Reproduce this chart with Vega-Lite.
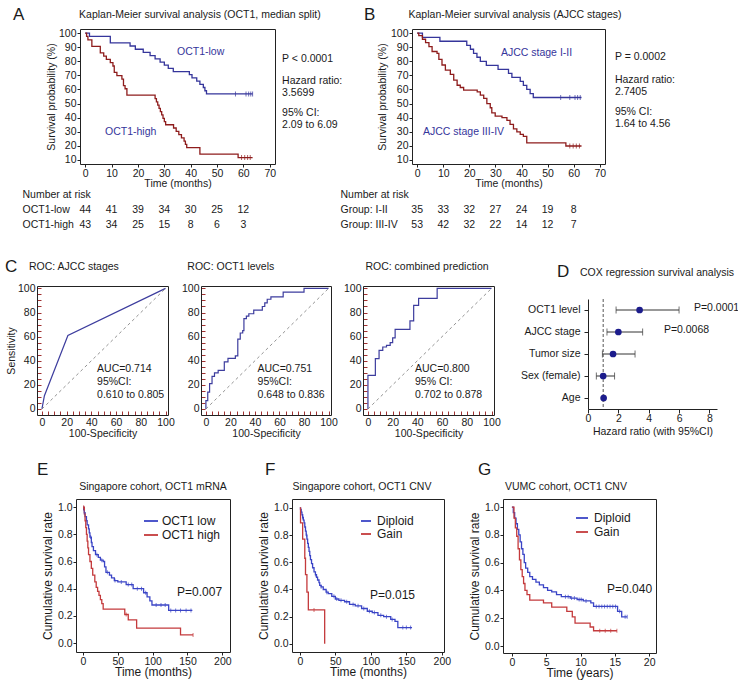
{
"$schema": "https://vega.github.io/schema/vega-lite/v6.json",
"width": 738, "height": 682,
"autosize": {"type": "none"},
"padding": 0,
"background": "white",
"config": {
 "font": "Liberation Sans",
 "view": {"stroke": null},
 "axis": {"grid": false, "labelFont": "Liberation Sans", "titleFont": "Liberation Sans", "labelFontSize": 10.5, "titleFontSize": 10.5, "labelColor": "#1a1a1a", "titleColor": "#1a1a1a", "titleFontWeight": "normal", "domainColor": "#222222", "tickColor": "#222222", "labelFlush": false, "labelOverlap": false, "minExtent": 0},
 "text": {"font": "Liberation Sans", "fontSize": 10.5, "color": "#1a1a1a"},
 "legend": {"labelFont": "Liberation Sans", "labelFontSize": 12, "labelColor": "#1a1a1a", "padding": 0}
},
"datasets": {
 "one": [{}],
 "kmA": [
  {"g":"OCT1-low","t":0,"s":100},{"g":"OCT1-low","t":1.6,"s":97.7},{"g":"OCT1-low","t":9.5,"s":93.2},{"g":"OCT1-low","t":17,"s":90.9},{"g":"OCT1-low","t":19,"s":88.6},{"g":"OCT1-low","t":22,"s":86.4},{"g":"OCT1-low","t":24.6,"s":84.1},{"g":"OCT1-low","t":26.5,"s":81.8},{"g":"OCT1-low","t":28.4,"s":79.5},{"g":"OCT1-low","t":30,"s":77.3},{"g":"OCT1-low","t":31.5,"s":75},{"g":"OCT1-low","t":33.4,"s":72.7},{"g":"OCT1-low","t":39.5,"s":70.5},{"g":"OCT1-low","t":40.5,"s":68.2},{"g":"OCT1-low","t":42.3,"s":65.9},{"g":"OCT1-low","t":43.5,"s":63.6},{"g":"OCT1-low","t":44.8,"s":61.4},{"g":"OCT1-low","t":45.4,"s":59.1},{"g":"OCT1-low","t":46,"s":56.8},{"g":"OCT1-low","t":63.5,"s":56.8},
  {"g":"OCT1-high","t":0,"s":100},{"g":"OCT1-high","t":0.5,"s":97.7},{"g":"OCT1-high","t":1,"s":95.3},{"g":"OCT1-high","t":2.5,"s":90.7},{"g":"OCT1-high","t":5.7,"s":86},{"g":"OCT1-high","t":7,"s":83.7},{"g":"OCT1-high","t":8,"s":81.4},{"g":"OCT1-high","t":9.5,"s":79.1},{"g":"OCT1-high","t":10.5,"s":76.7},{"g":"OCT1-high","t":11,"s":72.1},{"g":"OCT1-high","t":12,"s":69.8},{"g":"OCT1-high","t":13.9,"s":67.4},{"g":"OCT1-high","t":14.5,"s":62.8},{"g":"OCT1-high","t":15.1,"s":60.5},{"g":"OCT1-high","t":15.8,"s":56},{"g":"OCT1-high","t":26.5,"s":53.5},{"g":"OCT1-high","t":27,"s":51.2},{"g":"OCT1-high","t":27.5,"s":48.8},{"g":"OCT1-high","t":28,"s":46.5},{"g":"OCT1-high","t":28.5,"s":44.2},{"g":"OCT1-high","t":29,"s":41.9},{"g":"OCT1-high","t":29.5,"s":39.5},{"g":"OCT1-high","t":30,"s":37.2},{"g":"OCT1-high","t":30.5,"s":34.9},{"g":"OCT1-high","t":33.5,"s":32.6},{"g":"OCT1-high","t":34.5,"s":30.2},{"g":"OCT1-high","t":35.5,"s":27.9},{"g":"OCT1-high","t":36.5,"s":25.6},{"g":"OCT1-high","t":37.5,"s":23.3},{"g":"OCT1-high","t":38,"s":20.9},{"g":"OCT1-high","t":38.5,"s":18.6},{"g":"OCT1-high","t":43.5,"s":14},{"g":"OCT1-high","t":58,"s":11.6},{"g":"OCT1-high","t":63.5,"s":11.6}
 ],
 "cenA": [
  {"g":"OCT1-low","t":57,"s":56.8},{"g":"OCT1-low","t":61,"s":56.8},{"g":"OCT1-low","t":62,"s":56.8},{"g":"OCT1-low","t":62.8,"s":56.8},{"g":"OCT1-low","t":63.5,"s":56.8},
  {"g":"OCT1-high","t":59.3,"s":11.6},{"g":"OCT1-high","t":60.5,"s":11.6},{"g":"OCT1-high","t":61.6,"s":11.6},{"g":"OCT1-high","t":62.6,"s":11.6}
 ],
 "riskA": [
  {"g":"OCT1-low","t":0,"n":44},{"g":"OCT1-low","t":10,"n":41},{"g":"OCT1-low","t":20,"n":39},{"g":"OCT1-low","t":30,"n":34},{"g":"OCT1-low","t":40,"n":30},{"g":"OCT1-low","t":50,"n":25},{"g":"OCT1-low","t":60,"n":12},
  {"g":"OCT1-high","t":0,"n":43},{"g":"OCT1-high","t":10,"n":34},{"g":"OCT1-high","t":20,"n":25},{"g":"OCT1-high","t":30,"n":15},{"g":"OCT1-high","t":40,"n":8},{"g":"OCT1-high","t":50,"n":6},{"g":"OCT1-high","t":60,"n":3}
 ],
 "kmB": [
  {"g":"I-II","t":0,"s":100},{"g":"I-II","t":2,"s":97.1},{"g":"I-II","t":8.7,"s":94.3},{"g":"I-II","t":19,"s":91.4},{"g":"I-II","t":20.4,"s":88.6},{"g":"I-II","t":21.6,"s":85.7},{"g":"I-II","t":22.9,"s":82.9},{"g":"I-II","t":24.2,"s":80},{"g":"I-II","t":26.5,"s":77.1},{"g":"I-II","t":31,"s":74.3},{"g":"I-II","t":35,"s":71.4},{"g":"I-II","t":36.3,"s":68.6},{"g":"I-II","t":39.5,"s":65.7},{"g":"I-II","t":40.7,"s":62.9},{"g":"I-II","t":42,"s":60},{"g":"I-II","t":43.3,"s":57.1},{"g":"I-II","t":44.5,"s":54.3},{"g":"I-II","t":63,"s":54.3},
  {"g":"III-IV","t":0,"s":100},{"g":"III-IV","t":0.6,"s":98.3},{"g":"III-IV","t":2,"s":95.7},{"g":"III-IV","t":3.2,"s":93.3},{"g":"III-IV","t":4.5,"s":90.5},{"g":"III-IV","t":5.7,"s":87},{"g":"III-IV","t":7.6,"s":85.7},{"g":"III-IV","t":8.3,"s":81.4},{"g":"III-IV","t":9.5,"s":77.4},{"g":"III-IV","t":10.8,"s":73.8},{"g":"III-IV","t":12.7,"s":70.7},{"g":"III-IV","t":14,"s":66.7},{"g":"III-IV","t":15.3,"s":63},{"g":"III-IV","t":16.5,"s":61.4},{"g":"III-IV","t":17.8,"s":59.5},{"g":"III-IV","t":23,"s":58.3},{"g":"III-IV","t":24.2,"s":56},{"g":"III-IV","t":25.5,"s":53.6},{"g":"III-IV","t":26.7,"s":50},{"g":"III-IV","t":28,"s":47},{"g":"III-IV","t":28.6,"s":43.3},{"g":"III-IV","t":29.9,"s":41},{"g":"III-IV","t":32.5,"s":40},{"g":"III-IV","t":34.4,"s":38},{"g":"III-IV","t":35.6,"s":35.2},{"g":"III-IV","t":36.9,"s":32},{"g":"III-IV","t":38.2,"s":29.8},{"g":"III-IV","t":39.5,"s":28},{"g":"III-IV","t":40.7,"s":26.7},{"g":"III-IV","t":42,"s":22},{"g":"III-IV","t":57,"s":19.8},{"g":"III-IV","t":63,"s":19.8}
 ],
 "cenB": [
  {"g":"I-II","t":55,"s":54.3},{"g":"I-II","t":58.5,"s":54.3},{"g":"I-II","t":60.5,"s":54.3},{"g":"I-II","t":61.5,"s":54.3},{"g":"I-II","t":62.5,"s":54.3},
  {"g":"III-IV","t":58.5,"s":19.8},{"g":"III-IV","t":59.8,"s":19.8},{"g":"III-IV","t":61,"s":19.8},{"g":"III-IV","t":62.2,"s":19.8}
 ],
 "riskB": [
  {"g":"Group: I-II","t":0,"n":35},{"g":"Group: I-II","t":10,"n":33},{"g":"Group: I-II","t":20,"n":32},{"g":"Group: I-II","t":30,"n":27},{"g":"Group: I-II","t":40,"n":24},{"g":"Group: I-II","t":50,"n":19},{"g":"Group: I-II","t":60,"n":8},
  {"g":"Group: III-IV","t":0,"n":53},{"g":"Group: III-IV","t":10,"n":42},{"g":"Group: III-IV","t":20,"n":32},{"g":"Group: III-IV","t":30,"n":22},{"g":"Group: III-IV","t":40,"n":14},{"g":"Group: III-IV","t":50,"n":12},{"g":"Group: III-IV","t":60,"n":7}
 ],
 "roc1": [{"x":0,"y":0},{"x":2,"y":11},{"x":21,"y":61},{"x":100,"y":100}],
 "roc2": [{"x":0,"y":0},{"x":0,"y":7},{"x":1.5,"y":14},{"x":3,"y":21},{"x":5,"y":27},{"x":7,"y":30},{"x":10,"y":32},{"x":15,"y":39},{"x":18,"y":42},{"x":24,"y":44},{"x":26,"y":58},{"x":28,"y":63},{"x":30,"y":65},{"x":31,"y":75},{"x":33,"y":77},{"x":35,"y":79},{"x":39,"y":82},{"x":46,"y":85},{"x":48,"y":88},{"x":50,"y":91},{"x":53,"y":93},{"x":63,"y":97},{"x":80,"y":100},{"x":100,"y":100}],
 "roc3": [{"x":0,"y":0},{"x":0,"y":27.8},{"x":6,"y":41.7},{"x":9,"y":48.6},{"x":12,"y":51.4},{"x":15,"y":52.8},{"x":18,"y":55},{"x":20,"y":59},{"x":22,"y":66},{"x":34,"y":73},{"x":37,"y":86},{"x":41,"y":91.7},{"x":56,"y":100},{"x":100,"y":100}],
 "cox": [
  {"v":"OCT1 level","hr":3.4,"lo":1.85,"hi":6.0},
  {"v":"AJCC stage","hr":2.0,"lo":1.25,"hi":3.6},
  {"v":"Tumor size","hr":1.65,"lo":0.95,"hi":3.1},
  {"v":"Sex (female)","hr":1.0,"lo":0.55,"hi":1.75},
  {"v":"Age","hr":1.03,"lo":1.0,"hi":1.06}
 ],
 "kmE": [
  {"g":"OCT1 low","t":0,"s":1},{"g":"OCT1 low","t":1,"s":0.98},{"g":"OCT1 low","t":2,"s":0.96},{"g":"OCT1 low","t":3,"s":0.93},{"g":"OCT1 low","t":5,"s":0.9},{"g":"OCT1 low","t":6,"s":0.87},{"g":"OCT1 low","t":8,"s":0.84},{"g":"OCT1 low","t":9,"s":0.81},{"g":"OCT1 low","t":10,"s":0.78},{"g":"OCT1 low","t":12,"s":0.74},{"g":"OCT1 low","t":13,"s":0.71},{"g":"OCT1 low","t":15,"s":0.68},{"g":"OCT1 low","t":18,"s":0.65},{"g":"OCT1 low","t":22,"s":0.63},{"g":"OCT1 low","t":25,"s":0.61},{"g":"OCT1 low","t":29,"s":0.6},{"g":"OCT1 low","t":31,"s":0.56},{"g":"OCT1 low","t":33,"s":0.52},{"g":"OCT1 low","t":38,"s":0.5},{"g":"OCT1 low","t":41,"s":0.48},{"g":"OCT1 low","t":45,"s":0.46},{"g":"OCT1 low","t":50,"s":0.45},{"g":"OCT1 low","t":62,"s":0.43},{"g":"OCT1 low","t":72,"s":0.4},{"g":"OCT1 low","t":87,"s":0.37},{"g":"OCT1 low","t":92,"s":0.34},{"g":"OCT1 low","t":96,"s":0.31},{"g":"OCT1 low","t":99,"s":0.28},{"g":"OCT1 low","t":123,"s":0.24},{"g":"OCT1 low","t":157,"s":0.24},
  {"g":"OCT1 high","t":0,"s":1},{"g":"OCT1 high","t":2,"s":0.95},{"g":"OCT1 high","t":3,"s":0.9},{"g":"OCT1 high","t":4,"s":0.85},{"g":"OCT1 high","t":5,"s":0.8},{"g":"OCT1 high","t":6,"s":0.75},{"g":"OCT1 high","t":7,"s":0.7},{"g":"OCT1 high","t":8,"s":0.65},{"g":"OCT1 high","t":10,"s":0.6},{"g":"OCT1 high","t":12,"s":0.55},{"g":"OCT1 high","t":14,"s":0.5},{"g":"OCT1 high","t":17,"s":0.45},{"g":"OCT1 high","t":19,"s":0.41},{"g":"OCT1 high","t":21,"s":0.38},{"g":"OCT1 high","t":23,"s":0.35},{"g":"OCT1 high","t":25,"s":0.32},{"g":"OCT1 high","t":27,"s":0.29},{"g":"OCT1 high","t":29,"s":0.25},{"g":"OCT1 high","t":60,"s":0.21},{"g":"OCT1 high","t":65,"s":0.17},{"g":"OCT1 high","t":77,"s":0.11},{"g":"OCT1 high","t":140,"s":0.06},{"g":"OCT1 high","t":158,"s":0.06}
 ],
 "cenE": [
  {"g":"OCT1 low","t":2,"s":0.96},{"g":"OCT1 low","t":11,"s":0.78},{"g":"OCT1 low","t":20,"s":0.65},{"g":"OCT1 low","t":27,"s":0.61},{"g":"OCT1 low","t":35,"s":0.52},{"g":"OCT1 low","t":46,"s":0.46},{"g":"OCT1 low","t":55,"s":0.45},{"g":"OCT1 low","t":65,"s":0.43},{"g":"OCT1 low","t":70,"s":0.43},{"g":"OCT1 low","t":78,"s":0.4},{"g":"OCT1 low","t":84,"s":0.4},{"g":"OCT1 low","t":90,"s":0.37},{"g":"OCT1 low","t":105,"s":0.28},{"g":"OCT1 low","t":112,"s":0.28},{"g":"OCT1 low","t":118,"s":0.28},{"g":"OCT1 low","t":126,"s":0.24},{"g":"OCT1 low","t":133,"s":0.24},{"g":"OCT1 low","t":140,"s":0.24},{"g":"OCT1 low","t":148,"s":0.24},{"g":"OCT1 low","t":155,"s":0.24},
  {"g":"OCT1 high","t":1,"s":1},{"g":"OCT1 high","t":62,"s":0.21},{"g":"OCT1 high","t":158,"s":0.06}
 ],
 "kmF": [
  {"g":"Diploid","t":0,"s":1},{"g":"Diploid","t":1,"s":0.99},{"g":"Diploid","t":2,"s":0.97},{"g":"Diploid","t":3,"s":0.95},{"g":"Diploid","t":4,"s":0.93},{"g":"Diploid","t":5,"s":0.91},{"g":"Diploid","t":6,"s":0.89},{"g":"Diploid","t":7,"s":0.86},{"g":"Diploid","t":8,"s":0.83},{"g":"Diploid","t":9,"s":0.8},{"g":"Diploid","t":10,"s":0.77},{"g":"Diploid","t":11,"s":0.74},{"g":"Diploid","t":12,"s":0.71},{"g":"Diploid","t":13,"s":0.68},{"g":"Diploid","t":14,"s":0.65},{"g":"Diploid","t":15,"s":0.62},{"g":"Diploid","t":16.5,"s":0.59},{"g":"Diploid","t":18,"s":0.56},{"g":"Diploid","t":20,"s":0.53},{"g":"Diploid","t":22,"s":0.51},{"g":"Diploid","t":23.5,"s":0.49},{"g":"Diploid","t":25,"s":0.47},{"g":"Diploid","t":27,"s":0.45},{"g":"Diploid","t":28,"s":0.43},{"g":"Diploid","t":30,"s":0.42},{"g":"Diploid","t":33,"s":0.4},{"g":"Diploid","t":37,"s":0.38},{"g":"Diploid","t":40,"s":0.37},{"g":"Diploid","t":45,"s":0.35},{"g":"Diploid","t":50,"s":0.33},{"g":"Diploid","t":55,"s":0.32},{"g":"Diploid","t":63,"s":0.31},{"g":"Diploid","t":70,"s":0.29},{"g":"Diploid","t":78,"s":0.28},{"g":"Diploid","t":87,"s":0.26},{"g":"Diploid","t":95,"s":0.24},{"g":"Diploid","t":102,"s":0.23},{"g":"Diploid","t":110,"s":0.21},{"g":"Diploid","t":118,"s":0.2},{"g":"Diploid","t":128,"s":0.18},{"g":"Diploid","t":134,"s":0.165},{"g":"Diploid","t":138,"s":0.12},{"g":"Diploid","t":158,"s":0.12},
  {"g":"Gain","t":0,"s":1},{"g":"Gain","t":1,"s":0.89},{"g":"Gain","t":4,"s":0.77},{"g":"Gain","t":7,"s":0.63},{"g":"Gain","t":8,"s":0.51},{"g":"Gain","t":10,"s":0.38},{"g":"Gain","t":12,"s":0.25},{"g":"Gain","t":35,"s":0}
 ],
 "cenF": [
  {"g":"Diploid","t":4,"s":0.93},{"g":"Diploid","t":9.5,"s":0.8},{"g":"Diploid","t":22,"s":0.51},{"g":"Diploid","t":30,"s":0.42},{"g":"Diploid","t":38,"s":0.38},{"g":"Diploid","t":48,"s":0.35},{"g":"Diploid","t":52,"s":0.33},{"g":"Diploid","t":58,"s":0.32},{"g":"Diploid","t":66,"s":0.31},{"g":"Diploid","t":75,"s":0.29},{"g":"Diploid","t":82,"s":0.28},{"g":"Diploid","t":90,"s":0.26},{"g":"Diploid","t":98,"s":0.24},{"g":"Diploid","t":105,"s":0.23},{"g":"Diploid","t":114,"s":0.21},{"g":"Diploid","t":122,"s":0.2},{"g":"Diploid","t":130,"s":0.18},{"g":"Diploid","t":145,"s":0.12},{"g":"Diploid","t":150,"s":0.12},{"g":"Diploid","t":156,"s":0.12},
  {"g":"Gain","t":20,"s":0.25}
 ],
 "kmG": [
  {"g":"Diploid","t":0,"s":1},{"g":"Diploid","t":0.2,"s":0.96},{"g":"Diploid","t":0.4,"s":0.92},{"g":"Diploid","t":0.6,"s":0.88},{"g":"Diploid","t":0.8,"s":0.84},{"g":"Diploid","t":1.0,"s":0.8},{"g":"Diploid","t":1.2,"s":0.75},{"g":"Diploid","t":1.4,"s":0.7},{"g":"Diploid","t":1.6,"s":0.66},{"g":"Diploid","t":1.8,"s":0.6},{"g":"Diploid","t":2.0,"s":0.56},{"g":"Diploid","t":2.3,"s":0.53},{"g":"Diploid","t":2.6,"s":0.5},{"g":"Diploid","t":3.0,"s":0.48},{"g":"Diploid","t":3.5,"s":0.46},{"g":"Diploid","t":4.0,"s":0.44},{"g":"Diploid","t":4.6,"s":0.42},{"g":"Diploid","t":5.2,"s":0.4},{"g":"Diploid","t":5.8,"s":0.39},{"g":"Diploid","t":6.5,"s":0.37},{"g":"Diploid","t":7.2,"s":0.355},{"g":"Diploid","t":8.5,"s":0.345},{"g":"Diploid","t":9.5,"s":0.335},{"g":"Diploid","t":10.4,"s":0.325},{"g":"Diploid","t":11.5,"s":0.31},{"g":"Diploid","t":11.9,"s":0.285},{"g":"Diploid","t":15.4,"s":0.25},{"g":"Diploid","t":16.0,"s":0.21},{"g":"Diploid","t":16.8,"s":0.21},
  {"g":"Gain","t":0,"s":1},{"g":"Gain","t":0.3,"s":0.92},{"g":"Gain","t":0.5,"s":0.85},{"g":"Gain","t":0.7,"s":0.79},{"g":"Gain","t":0.9,"s":0.7},{"g":"Gain","t":1.1,"s":0.62},{"g":"Gain","t":1.3,"s":0.55},{"g":"Gain","t":1.5,"s":0.5},{"g":"Gain","t":1.7,"s":0.45},{"g":"Gain","t":1.9,"s":0.4},{"g":"Gain","t":2.2,"s":0.37},{"g":"Gain","t":2.6,"s":0.33},{"g":"Gain","t":4.6,"s":0.31},{"g":"Gain","t":5.8,"s":0.28},{"g":"Gain","t":8.0,"s":0.25},{"g":"Gain","t":8.8,"s":0.21},{"g":"Gain","t":9.2,"s":0.165},{"g":"Gain","t":11.4,"s":0.137},{"g":"Gain","t":11.9,"s":0.11},{"g":"Gain","t":15.3,"s":0.11}
 ],
 "cenG": [
  {"g":"Diploid","t":7.8,"s":0.355},{"g":"Diploid","t":8.2,"s":0.355},{"g":"Diploid","t":8.7,"s":0.345},{"g":"Diploid","t":9.1,"s":0.345},{"g":"Diploid","t":9.8,"s":0.335},{"g":"Diploid","t":10.1,"s":0.335},{"g":"Diploid","t":10.8,"s":0.325},{"g":"Diploid","t":12.3,"s":0.285},{"g":"Diploid","t":12.7,"s":0.285},{"g":"Diploid","t":13.1,"s":0.285},{"g":"Diploid","t":13.5,"s":0.285},{"g":"Diploid","t":13.9,"s":0.285},{"g":"Diploid","t":14.3,"s":0.285},{"g":"Diploid","t":14.7,"s":0.285},{"g":"Diploid","t":15.1,"s":0.285},{"g":"Diploid","t":15.7,"s":0.25},{"g":"Diploid","t":16.5,"s":0.21},{"g":"Diploid","t":16.8,"s":0.21},
  {"g":"Gain","t":12.8,"s":0.11},{"g":"Gain","t":13.6,"s":0.11},{"g":"Gain","t":14.4,"s":0.11},{"g":"Gain","t":15.3,"s":0.11}
 ]
},
"resolve": {"scale": {"x": "independent", "y": "independent", "color": "independent", "fill": "independent"}},
"layer": [
 {
  "resolve": {"axis": {"x": "independent", "y": "independent"}},
  "layer": [
   {"data": {"name": "kmA"}, "mark": {"type": "line", "interpolate": "step-after", "strokeWidth": 1.3},
    "encoding": {
     "x": {"field": "t", "type": "quantitative", "scale": {"domain": [-2, 72], "range": [80, 275], "nice": false, "zero": false},
       "axis": {"orient": "bottom", "offset": -518, "values": [0,10,20,30,40,50,60,70], "tickSize": 3, "labelPadding": 1, "title": "Time (months)", "titlePadding": 0}},
     "y": {"field": "s", "type": "quantitative", "scale": {"domain": [7, 103], "range": [164, 29], "nice": false, "zero": false},
       "axis": {"orient": "left", "offset": -80, "values": [10,20,30,40,50,60,70,80,90,100], "tickSize": 3, "labelPadding": 1, "title": "Survival probability (%)", "titlePadding": 2}},
     "color": {"field": "g", "type": "nominal", "scale": {"domain": ["OCT1-low", "OCT1-high"], "range": ["#35359b", "#8e1c1c"]}, "legend": null}}},
   {"data": {"name": "cenA"}, "mark": {"type": "tick", "orient": "vertical", "size": 5, "thickness": 1},
    "encoding": {
     "x": {"field": "t", "type": "quantitative", "axis": {"orient": "top", "offset": -29, "labels": false, "ticks": false, "title": null}},
     "y": {"field": "s", "type": "quantitative", "axis": {"orient": "right", "offset": -463, "labels": false, "ticks": false, "title": null}},
     "fill": {"field": "g", "type": "nominal", "scale": {"domain": ["OCT1-low", "OCT1-high"], "range": ["#35359b", "#8e1c1c"]}, "legend": null}}},
   {"data": {"name": "one"}, "mark": {"type": "text", "text": "A", "fontSize": 17, "align": "left", "baseline": "middle"},
    "encoding": {"x": {"datum": -27.4, "axis": null}, "y": {"datum": 113, "axis": null}}},
   {"data": {"name": "one"}, "mark": {"type": "text", "text": "Kaplan-Meier survival analysis (OCT1, median split)", "align": "center", "baseline": "middle"},
    "encoding": {"x": {"datum": 43.5, "axis": null}, "y": {"datum": 113, "axis": null}}},
   {"data": {"name": "one"}, "mark": {"type": "text", "text": "OCT1-low", "align": "left", "baseline": "middle", "color": "#35359b"},
    "encoding": {"x": {"datum": 34.8, "axis": null}, "y": {"datum": 86.6, "axis": null}}},
   {"data": {"name": "one"}, "mark": {"type": "text", "text": "OCT1-high", "align": "left", "baseline": "middle", "color": "#35359b"},
    "encoding": {"x": {"datum": 7.5, "axis": null}, "y": {"datum": 29.8, "axis": null}}},
   {"data": {"name": "one"}, "mark": {"type": "text", "text": "P < 0.0001", "align": "left", "baseline": "middle"},
    "encoding": {"x": {"datum": 74.7, "axis": null}, "y": {"datum": 81.7, "axis": null}}},
   {"data": {"name": "one"}, "mark": {"type": "text", "text": ["Hazard ratio:", "3.5699"], "align": "left", "baseline": "top", "lineHeight": 12},
    "encoding": {"x": {"datum": 74.7, "axis": null}, "y": {"datum": 69.9, "axis": null}}},
   {"data": {"name": "one"}, "mark": {"type": "text", "text": ["95% CI:", "2.09 to 6.09"], "align": "left", "baseline": "top", "lineHeight": 12},
    "encoding": {"x": {"datum": 74.7, "axis": null}, "y": {"datum": 46.5, "axis": null}}}
  ]
 },
 {
  "data": {"name": "riskA"}, "mark": {"type": "text", "align": "center", "baseline": "middle"},
  "encoding": {
   "x": {"field": "t", "type": "quantitative", "scale": {"domain": [-2, 72], "range": [80, 275], "nice": false, "zero": false}, "axis": null},
   "y": {"field": "g", "type": "nominal", "scale": {"type": "point", "domain": ["OCT1-low", "OCT1-high"], "range": [209.5, 224.5], "padding": 0},
     "axis": {"orient": "left", "offset": -22, "domain": false, "ticks": false, "tickSize": 0, "labelAlign": "left", "labelBaseline": "middle", "labelPadding": 0, "title": "Number at risk", "titleAngle": 0, "titleAlign": "left", "titleBaseline": "middle", "titleX": 0, "titleY": 194}},
   "text": {"field": "n", "type": "quantitative"}}
 },
 {
  "resolve": {"axis": {"x": "independent", "y": "independent"}},
  "layer": [
   {"data": {"name": "kmB"}, "mark": {"type": "line", "interpolate": "step-after", "strokeWidth": 1.3},
    "encoding": {
     "x": {"field": "t", "type": "quantitative", "scale": {"domain": [-2, 72], "range": [412, 605], "nice": false, "zero": false},
       "axis": {"orient": "bottom", "offset": -518, "values": [0,10,20,30,40,50,60,70], "tickSize": 3, "labelPadding": 1, "title": "Time (months)", "titlePadding": 0}},
     "y": {"field": "s", "type": "quantitative", "scale": {"domain": [7, 103], "range": [164, 29], "nice": false, "zero": false},
       "axis": {"orient": "left", "offset": -412, "values": [10,20,30,40,50,60,70,80,90,100], "tickSize": 3, "labelPadding": 1, "title": "Survival probability (%)", "titlePadding": 3}},
     "color": {"field": "g", "type": "nominal", "scale": {"domain": ["I-II", "III-IV"], "range": ["#35359b", "#8e1c1c"]}, "legend": null}}},
   {"data": {"name": "cenB"}, "mark": {"type": "tick", "orient": "vertical", "size": 5, "thickness": 1},
    "encoding": {
     "x": {"field": "t", "type": "quantitative", "axis": {"orient": "top", "offset": -29, "labels": false, "ticks": false, "title": null}},
     "y": {"field": "s", "type": "quantitative", "axis": {"orient": "right", "offset": -133, "labels": false, "ticks": false, "title": null}},
     "fill": {"field": "g", "type": "nominal", "scale": {"domain": ["I-II", "III-IV"], "range": ["#35359b", "#8e1c1c"]}, "legend": null}}},
   {"data": {"name": "one"}, "mark": {"type": "text", "text": "B", "fontSize": 17, "align": "left", "baseline": "middle"},
    "encoding": {"x": {"datum": -20.4, "axis": null}, "y": {"datum": 113, "axis": null}}},
   {"data": {"name": "one"}, "mark": {"type": "text", "text": "Kaplan-Meier survival analysis (AJCC stages)", "align": "center", "baseline": "middle"},
    "encoding": {"x": {"datum": 37.5, "axis": null}, "y": {"datum": 113, "axis": null}}},
   {"data": {"name": "one"}, "mark": {"type": "text", "text": "AJCC stage I-II", "align": "left", "baseline": "middle", "color": "#35359b"},
    "encoding": {"x": {"datum": 32.1, "axis": null}, "y": {"datum": 85.9, "axis": null}}},
   {"data": {"name": "one"}, "mark": {"type": "text", "text": "AJCC stage III-IV", "align": "left", "baseline": "middle", "color": "#35359b"},
    "encoding": {"x": {"datum": 2.2, "axis": null}, "y": {"datum": 29.8, "axis": null}}},
   {"data": {"name": "one"}, "mark": {"type": "text", "text": "P = 0.0002", "align": "left", "baseline": "middle"},
    "encoding": {"x": {"datum": 75.8, "axis": null}, "y": {"datum": 83.1, "axis": null}}},
   {"data": {"name": "one"}, "mark": {"type": "text", "text": ["Hazard ratio:", "2.7405"], "align": "left", "baseline": "top", "lineHeight": 12},
    "encoding": {"x": {"datum": 75.8, "axis": null}, "y": {"datum": 70.6, "axis": null}}},
   {"data": {"name": "one"}, "mark": {"type": "text", "text": ["95% CI:", "1.64 to 4.56"], "align": "left", "baseline": "top", "lineHeight": 12},
    "encoding": {"x": {"datum": 75.8, "axis": null}, "y": {"datum": 47.2, "axis": null}}}
  ]
 },
 {
  "data": {"name": "riskB"}, "mark": {"type": "text", "align": "center", "baseline": "middle"},
  "encoding": {
   "x": {"field": "t", "type": "quantitative", "scale": {"domain": [-2, 72], "range": [412, 605], "nice": false, "zero": false}, "axis": null},
   "y": {"field": "g", "type": "nominal", "scale": {"type": "point", "domain": ["Group: I-II", "Group: III-IV"], "range": [209.5, 224.5], "padding": 0},
     "axis": {"orient": "left", "offset": -340, "domain": false, "ticks": false, "tickSize": 0, "labelAlign": "left", "labelBaseline": "middle", "labelPadding": 0, "title": "Number at risk", "titleAngle": 0, "titleAlign": "left", "titleBaseline": "middle", "titleX": 0, "titleY": 194}},
   "text": {"field": "n", "type": "quantitative"}}
 },
 {
  "resolve": {"axis": {"x": "independent", "y": "independent"}},
  "layer": [
   {"data": {"name": "roc1"}, "mark": {"type": "line", "strokeWidth": 1.2, "color": "#3d3d9e"},
    "encoding": {
     "x": {"field": "x", "type": "quantitative", "scale": {"domain": [-4, 102], "range": [37, 168], "nice": false, "zero": false},
       "axis": {"orient": "bottom", "offset": -267, "values": [0,5,10,15,20,25,30,35,40,45,50,55,60,65,70,75,80,85,90,95,100], "labelExpr": "datum.value % 20 === 0 ? datum.label : ''", "tickSize": -4, "tickColor": "#a03030", "labelPadding": 6, "title": "100-Specificity", "titlePadding": 1}},
     "y": {"field": "y", "type": "quantitative", "scale": {"domain": [-5, 102], "range": [415, 286], "nice": false, "zero": false},
       "axis": {"orient": "left", "offset": -37, "values": [0,5,10,15,20,25,30,35,40,45,50,55,60,65,70,75,80,85,90,95,100], "labelExpr": "datum.value % 20 === 0 ? datum.label : ''", "tickSize": -4, "tickColor": "#a03030", "labelPadding": 6, "title": "Sensitivity", "titlePadding": 1}}}},
   {"data": {"name": "one"}, "mark": {"type": "rule", "strokeDash": [3, 3], "color": "#777777", "strokeWidth": 0.8},
    "encoding": {
     "x": {"datum": 0, "axis": {"orient": "top", "offset": -286, "labels": false, "ticks": false, "title": null}},
     "y": {"datum": 0, "axis": {"orient": "right", "offset": -570, "labels": false, "ticks": false, "title": null}},
     "x2": {"datum": 100}, "y2": {"datum": 100}}},
   {"data": {"name": "one"}, "mark": {"type": "text", "text": "C", "fontSize": 17, "align": "left", "baseline": "middle"},
    "encoding": {"x": {"datum": -29.9, "axis": null}, "y": {"datum": 117.8, "axis": null}}},
   {"data": {"name": "one"}, "mark": {"type": "text", "text": "ROC: AJCC stages", "align": "center", "baseline": "middle"},
    "encoding": {"x": {"datum": 25.9, "axis": null}, "y": {"datum": 117.8, "axis": null}}},
   {"data": {"name": "one"}, "mark": {"type": "text", "text": ["AUC=0.714", "95%CI:", "0.610 to 0.805"], "align": "left", "baseline": "top", "lineHeight": 13},
    "encoding": {"x": {"datum": 44.6, "axis": null}, "y": {"datum": 36.9, "axis": null}}}
  ]
 },
 {
  "resolve": {"axis": {"x": "independent", "y": "independent"}},
  "layer": [
   {"data": {"name": "roc2"}, "mark": {"type": "line", "interpolate": "step-after", "strokeWidth": 1.2, "color": "#3d3d9e"},
    "encoding": {
     "x": {"field": "x", "type": "quantitative", "scale": {"domain": [-4, 102], "range": [201, 331], "nice": false, "zero": false},
       "axis": {"orient": "bottom", "offset": -267, "values": [0,5,10,15,20,25,30,35,40,45,50,55,60,65,70,75,80,85,90,95,100], "labelExpr": "datum.value % 20 === 0 ? datum.label : ''", "tickSize": -4, "tickColor": "#a03030", "labelPadding": 6, "title": "100-Specificity", "titlePadding": 1}},
     "y": {"field": "y", "type": "quantitative", "scale": {"domain": [-5, 102], "range": [415, 286], "nice": false, "zero": false},
       "axis": {"orient": "left", "offset": -201, "values": [0,5,10,15,20,25,30,35,40,45,50,55,60,65,70,75,80,85,90,95,100], "labelExpr": "datum.value % 20 === 0 ? datum.label : ''", "tickSize": -4, "tickColor": "#a03030", "labelPadding": 6, "title": null}}}},
   {"data": {"name": "one"}, "mark": {"type": "rule", "strokeDash": [3, 3], "color": "#777777", "strokeWidth": 0.8},
    "encoding": {
     "x": {"datum": 0, "axis": {"orient": "top", "offset": -286, "labels": false, "ticks": false, "title": null}},
     "y": {"datum": 0, "axis": {"orient": "right", "offset": -407, "labels": false, "ticks": false, "title": null}},
     "x2": {"datum": 100}, "y2": {"datum": 100}}},
   {"data": {"name": "one"}, "mark": {"type": "text", "text": "ROC: OCT1 levels", "align": "center", "baseline": "middle"},
    "encoding": {"x": {"datum": 20.3, "axis": null}, "y": {"datum": 117.8, "axis": null}}},
   {"data": {"name": "one"}, "mark": {"type": "text", "text": ["AUC=0.751", "95%CI:", "0.648 to 0.836"], "align": "left", "baseline": "top", "lineHeight": 13},
    "encoding": {"x": {"datum": 42.1, "axis": null}, "y": {"datum": 36.9, "axis": null}}}
  ]
 },
 {
  "resolve": {"axis": {"x": "independent", "y": "independent"}},
  "layer": [
   {"data": {"name": "roc3"}, "mark": {"type": "line", "interpolate": "step-after", "strokeWidth": 1.2, "color": "#3d3d9e"},
    "encoding": {
     "x": {"field": "x", "type": "quantitative", "scale": {"domain": [-4, 102], "range": [363, 494], "nice": false, "zero": false},
       "axis": {"orient": "bottom", "offset": -267, "values": [0,5,10,15,20,25,30,35,40,45,50,55,60,65,70,75,80,85,90,95,100], "labelExpr": "datum.value % 20 === 0 ? datum.label : ''", "tickSize": -4, "tickColor": "#a03030", "labelPadding": 6, "title": "100-Specificity", "titlePadding": 1}},
     "y": {"field": "y", "type": "quantitative", "scale": {"domain": [-5, 102], "range": [415, 286], "nice": false, "zero": false},
       "axis": {"orient": "left", "offset": -363, "values": [0,5,10,15,20,25,30,35,40,45,50,55,60,65,70,75,80,85,90,95,100], "labelExpr": "datum.value % 20 === 0 ? datum.label : ''", "tickSize": -4, "tickColor": "#a03030", "labelPadding": 6, "title": null}}}},
   {"data": {"name": "one"}, "mark": {"type": "rule", "strokeDash": [3, 3], "color": "#777777", "strokeWidth": 0.8},
    "encoding": {
     "x": {"datum": 0, "axis": {"orient": "top", "offset": -286, "labels": false, "ticks": false, "title": null}},
     "y": {"datum": 0, "axis": {"orient": "right", "offset": -244, "labels": false, "ticks": false, "title": null}},
     "x2": {"datum": 100}, "y2": {"datum": 100}}},
   {"data": {"name": "one"}, "mark": {"type": "text", "text": "ROC: combined prediction", "align": "center", "baseline": "middle"},
    "encoding": {"x": {"datum": 47.8, "axis": null}, "y": {"datum": 117.8, "axis": null}}},
   {"data": {"name": "one"}, "mark": {"type": "text", "text": ["AUC=0.800", "95% CI:", "0.702 to 0.878"], "align": "left", "baseline": "top", "lineHeight": 13},
    "encoding": {"x": {"datum": 38.1, "axis": null}, "y": {"datum": 36.9, "axis": null}}}
  ]
 },
 {
  "resolve": {"axis": {"x": "independent", "y": "independent"}},
  "layer": [
   {"data": {"name": "cox"}, "mark": {"type": "rule", "color": "#333333", "strokeWidth": 1},
    "encoding": {
     "x": {"field": "lo", "type": "quantitative", "scale": {"domain": [0, 8.5], "range": [588, 717], "nice": false, "zero": false},
       "axis": {"orient": "bottom", "offset": -273, "values": [0,2,4,6,8], "tickSize": 4, "labelPadding": 0, "title": "Hazard ratio (with 95%CI)", "titlePadding": 3}},
     "x2": {"field": "hi"},
     "y": {"field": "v", "type": "nominal", "scale": {"type": "band", "domain": ["OCT1 level", "AJCC stage", "Tumor size", "Sex (female)", "Age"], "range": [299, 409], "paddingInner": 0, "paddingOuter": 0},
       "axis": {"orient": "left", "offset": -588, "tickSize": 4, "labelPadding": 4, "title": null}}}},
   {"data": {"name": "cox"}, "mark": {"type": "tick", "orient": "vertical", "size": 7, "thickness": 1, "color": "#333333"},
    "encoding": {"x": {"field": "lo", "type": "quantitative", "axis": null}, "y": {"field": "v", "type": "nominal", "axis": null}}},
   {"data": {"name": "cox"}, "mark": {"type": "tick", "orient": "vertical", "size": 7, "thickness": 1, "color": "#333333"},
    "encoding": {"x": {"field": "hi", "type": "quantitative", "axis": null}, "y": {"field": "v", "type": "nominal", "axis": null}}},
   {"data": {"name": "one"}, "mark": {"type": "rule", "strokeDash": [3, 2], "color": "#555555", "strokeWidth": 1},
    "encoding": {"x": {"datum": 1, "axis": null}, "y": {"datum": "OCT1 level", "type": "nominal", "bandPosition": 0, "axis": null}, "y2": {"datum": "Age", "bandPosition": 1}}},
   {"data": {"name": "cox"}, "mark": {"type": "circle", "size": 45, "opacity": 1, "color": "#1c1c8c"},
    "encoding": {"x": {"field": "hr", "type": "quantitative", "axis": null}, "y": {"field": "v", "type": "nominal", "axis": null}}},
   {"data": {"name": "one"}, "mark": {"type": "text", "text": "P=0.0001", "align": "left", "baseline": "middle"},
    "encoding": {"x": {"datum": 6.98, "axis": null}, "y": {"datum": "OCT1 level", "type": "nominal", "bandPosition": 0.4, "axis": null}}},
   {"data": {"name": "one"}, "mark": {"type": "text", "text": "P=0.0068", "align": "left", "baseline": "middle"},
    "encoding": {"x": {"datum": 5.0, "axis": null}, "y": {"datum": "AJCC stage", "type": "nominal", "bandPosition": 0.4, "axis": null}}},
   {"data": {"name": "one"}, "mark": {"type": "text", "text": "COX regression survival analysis", "align": "center", "baseline": "middle"},
    "encoding": {"x": {"datum": 4.55, "axis": null}, "y": {"datum": "OCT1 level", "type": "nominal", "bandPosition": -1.18, "axis": null}}},
   {"data": {"name": "one"}, "mark": {"type": "text", "text": "D", "fontSize": 17, "align": "left", "baseline": "middle"},
    "encoding": {"x": {"datum": -2.04, "axis": null}, "y": {"datum": "OCT1 level", "type": "nominal", "bandPosition": -1.23, "axis": null}}}
  ]
 },
 {
  "resolve": {"axis": {"x": "independent", "y": "independent"}},
  "layer": [
   {"data": {"name": "kmE"}, "mark": {"type": "line", "interpolate": "step-after", "strokeWidth": 1.3},
    "encoding": {
     "x": {"field": "t", "type": "quantitative", "scale": {"domain": [-10, 211], "range": [76, 230], "nice": false, "zero": false},
       "axis": {"orient": "bottom", "offset": -30, "values": [0,50,100,150,200], "tickSize": 3, "labelPadding": 1, "title": "Time (months)", "titleFontSize": 12, "titlePadding": 0}},
     "y": {"field": "s", "type": "quantitative", "scale": {"domain": [-0.066, 1.06], "range": [652, 499], "nice": false, "zero": false},
       "axis": {"orient": "left", "offset": -76, "values": [0,0.2,0.4,0.6,0.8,1], "format": ".1f", "tickSize": 3, "labelPadding": 1, "title": "Cumulative survival rate", "titleFontSize": 12, "titlePadding": 3}},
     "color": {"field": "g", "type": "nominal", "scale": {"domain": ["OCT1 low", "OCT1 high"], "range": ["#3a44c6", "#c43a3c"]},
       "legend": {"orient": "none", "legendX": 143, "legendY": 513, "title": null, "symbolType": "stroke", "symbolSize": 196, "symbolStrokeWidth": 1.8, "labelOffset": 3, "rowPadding": -1, "labelFontSize": 12}}}},
   {"data": {"name": "cenE"}, "mark": {"type": "tick", "orient": "vertical", "size": 4, "thickness": 1},
    "encoding": {
     "x": {"field": "t", "type": "quantitative", "axis": {"orient": "top", "offset": -499, "labels": false, "ticks": false, "title": null}},
     "y": {"field": "s", "type": "quantitative", "axis": {"orient": "right", "offset": -508, "labels": false, "ticks": false, "title": null}},
     "fill": {"field": "g", "type": "nominal", "scale": {"domain": ["OCT1 low", "OCT1 high"], "range": ["#3a44c6", "#c43a3c"]}, "legend": null}}},
   {"data": {"name": "one"}, "mark": {"type": "text", "text": "E", "fontSize": 17, "align": "left", "baseline": "middle"},
    "encoding": {"x": {"datum": -66, "axis": null}, "y": {"datum": 1.273, "axis": null}}},
   {"data": {"name": "one"}, "mark": {"type": "text", "text": "Singapore cohort, OCT1 mRNA", "align": "center", "baseline": "middle"},
    "encoding": {"x": {"datum": 100.5, "axis": null}, "y": {"datum": 1.148, "axis": null}}},
   {"data": {"name": "one"}, "mark": {"type": "text", "text": "P=0.007", "align": "left", "baseline": "middle", "fontSize": 12},
    "encoding": {"x": {"datum": 135, "axis": null}, "y": {"datum": 0.375, "axis": null}}}
  ]
 },
 {
  "resolve": {"axis": {"x": "independent", "y": "independent"}},
  "layer": [
   {"data": {"name": "kmF"}, "mark": {"type": "line", "interpolate": "step-after", "strokeWidth": 1.3},
    "encoding": {
     "x": {"field": "t", "type": "quantitative", "scale": {"domain": [-11, 203], "range": [292, 444], "nice": false, "zero": false},
       "axis": {"orient": "bottom", "offset": -30, "values": [0,50,100,150,200], "tickSize": 3, "labelPadding": 1, "title": "Time (months)", "titleFontSize": 12, "titlePadding": 0}},
     "y": {"field": "s", "type": "quantitative", "scale": {"domain": [-0.06, 1.066], "range": [652, 499], "nice": false, "zero": false},
       "axis": {"orient": "left", "offset": -292, "values": [0,0.2,0.4,0.6,0.8,1], "format": ".1f", "tickSize": 3, "labelPadding": 1, "title": "Cumulative survival rate", "titleFontSize": 12, "titlePadding": 3}},
     "color": {"field": "g", "type": "nominal", "scale": {"domain": ["Diploid", "Gain"], "range": ["#3a44c6", "#c43a3c"]},
       "legend": {"orient": "none", "legendX": 360, "legendY": 515, "title": null, "symbolType": "stroke", "symbolSize": 100, "symbolStrokeWidth": 1.8, "labelOffset": 5, "rowPadding": 1, "labelFontSize": 12}}}},
   {"data": {"name": "cenF"}, "mark": {"type": "tick", "orient": "vertical", "size": 4, "thickness": 1},
    "encoding": {
     "x": {"field": "t", "type": "quantitative", "axis": {"orient": "top", "offset": -499, "labels": false, "ticks": false, "title": null}},
     "y": {"field": "s", "type": "quantitative", "axis": {"orient": "right", "offset": -294, "labels": false, "ticks": false, "title": null}},
     "fill": {"field": "g", "type": "nominal", "scale": {"domain": ["Diploid", "Gain"], "range": ["#3a44c6", "#c43a3c"]}, "legend": null}}},
   {"data": {"name": "one"}, "mark": {"type": "text", "text": "F", "fontSize": 17, "align": "left", "baseline": "middle"},
    "encoding": {"x": {"datum": -49, "axis": null}, "y": {"datum": 1.278, "axis": null}}},
   {"data": {"name": "one"}, "mark": {"type": "text", "text": "Singapore cohort, OCT1 CNV", "align": "center", "baseline": "middle"},
    "encoding": {"x": {"datum": 87.5, "axis": null}, "y": {"datum": 1.153, "axis": null}}},
   {"data": {"name": "one"}, "mark": {"type": "text", "text": "P=0.015", "align": "left", "baseline": "middle", "fontSize": 12},
    "encoding": {"x": {"datum": 98.8, "axis": null}, "y": {"datum": 0.359, "axis": null}}}
  ]
 },
 {
  "resolve": {"axis": {"x": "independent", "y": "independent"}},
  "layer": [
   {"data": {"name": "kmG"}, "mark": {"type": "line", "interpolate": "step-after", "strokeWidth": 1.3},
    "encoding": {
     "x": {"field": "t", "type": "quantitative", "scale": {"domain": [-1.3, 21], "range": [503, 656], "nice": false, "zero": false},
       "axis": {"orient": "bottom", "offset": -29, "values": [0,5,10,15,20], "tickSize": 3, "labelPadding": 1, "title": "Time (years)", "titleFontSize": 12, "titlePadding": 0}},
     "y": {"field": "s", "type": "quantitative", "scale": {"domain": [-0.05, 1.058], "range": [653, 499], "nice": false, "zero": false},
       "axis": {"orient": "left", "offset": -503, "values": [0,0.2,0.4,0.6,0.8,1], "format": ".1f", "tickSize": 3, "labelPadding": 1, "title": "Cumulative survival rate", "titleFontSize": 12, "titlePadding": 3}},
     "color": {"field": "g", "type": "nominal", "scale": {"domain": ["Diploid", "Gain"], "range": ["#3a44c6", "#c43a3c"]},
       "legend": {"orient": "none", "legendX": 575, "legendY": 511, "title": null, "symbolType": "stroke", "symbolSize": 144, "symbolStrokeWidth": 1.8, "labelOffset": 5, "rowPadding": 1, "labelFontSize": 12}}}},
   {"data": {"name": "cenG"}, "mark": {"type": "tick", "orient": "vertical", "size": 4, "thickness": 1},
    "encoding": {
     "x": {"field": "t", "type": "quantitative", "axis": {"orient": "top", "offset": -499, "labels": false, "ticks": false, "title": null}},
     "y": {"field": "s", "type": "quantitative", "axis": {"orient": "right", "offset": -82, "labels": false, "ticks": false, "title": null}},
     "fill": {"field": "g", "type": "nominal", "scale": {"domain": ["Diploid", "Gain"], "range": ["#3a44c6", "#c43a3c"]}, "legend": null}}},
   {"data": {"name": "one"}, "mark": {"type": "text", "text": "G", "fontSize": 17, "align": "left", "baseline": "middle"},
    "encoding": {"x": {"datum": -4.94, "axis": null}, "y": {"datum": 1.267, "axis": null}}},
   {"data": {"name": "one"}, "mark": {"type": "text", "text": "VUMC cohort, OCT1 CNV", "align": "center", "baseline": "middle"},
    "encoding": {"x": {"datum": 7.88, "axis": null}, "y": {"datum": 1.144, "axis": null}}},
   {"data": {"name": "one"}, "mark": {"type": "text", "text": "P=0.040", "align": "left", "baseline": "middle", "fontSize": 12},
    "encoding": {"x": {"datum": 13.86, "axis": null}, "y": {"datum": 0.41, "axis": null}}}
  ]
 }
]
}
